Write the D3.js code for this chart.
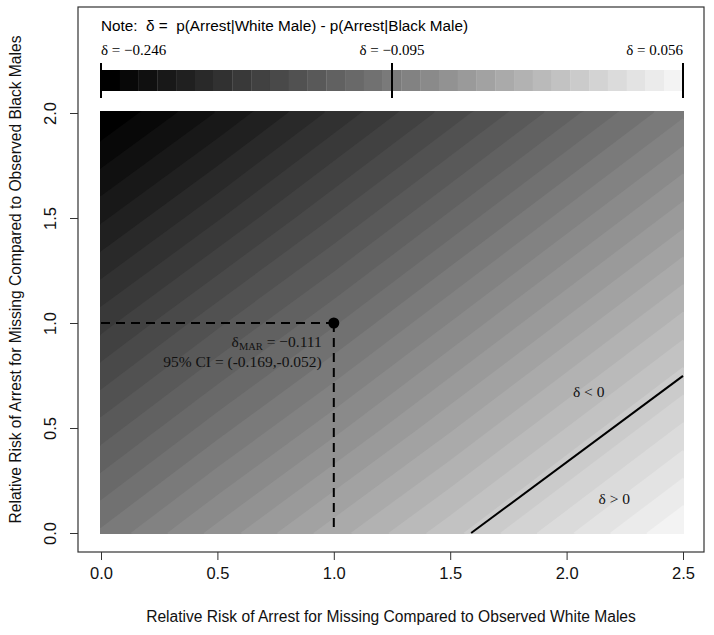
<!DOCTYPE html>
<html>
<head>
<meta charset="utf-8">
<script src="https://cdn.jsdelivr.net/npm/d3@7"></script>
<style>
  html, body { margin: 0; padding: 0; background: #fff; }
  svg { display: block; }
  .sans { font-family: "Liberation Sans", Arial, sans-serif; }
  .serif { font-family: "Liberation Serif", "Times New Roman", serif; }
</style>
</head>
<body>
<div id="chart"></div>
<script>
// axis ticks
const xTicks = [0, 0.5, 1, 1.5, 2, 2.5];
const yTicks = [0, 0.5, 1, 1.5, 2];

// delta at the tick grid (rows: y = 0 .. 2, cols: x = 0 .. 2.5)
const gridX = [0, 0.5, 1, 1.5, 2, 2.5];
const gridY = [0, 0.5, 1, 1.5, 2];
const deltaGrid = [
  [-0.098, -0.067, -0.036, -0.006, 0.025, 0.056],
  [-0.135, -0.104, -0.074, -0.043, -0.012, 0.019],
  [-0.172, -0.141, -0.111, -0.080, -0.049, -0.018],
  [-0.209, -0.179, -0.148, -0.117, -0.086, -0.055],
  [-0.246, -0.216, -0.185, -0.154, -0.123, -0.092]
];

// colour key
const legendValues = [-0.246, -0.095, 0.056];
const legendLabels = ["δ = −0.246", "δ = −0.095", "δ = 0.056"];
const nLevels = 31;

// MAR point, CI and the delta = 0 line
const marPoint = [1, 1];
const marDelta = "−0.111";
const marCI = "95% CI = (-0.169,-0.052)";
const zeroLine = [[1.59, 0], [2.5, 0.748]];
const regionLabels = [
  { text: "δ < 0", x: 2.095, y: 0.67 },
  { text: "δ > 0", x: 2.205, y: 0.16 }
];

window.addEventListener('DOMContentLoaded', function() {
  const width = 714, height = 635;
  const frame = { left: 78, top: 7, right: 704, bottom: 552 };

  const svg = d3.select('#chart').append('svg')
    .attr('width', width)
    .attr('height', height);

  const x = d3.scaleLinear().domain([0, 2.5]).range([101, 683]);
  const y = d3.scaleLinear().domain([0, 2]).range([533, 113]);

  // level breaks and grey palette
  const dMin = legendValues[0], dMax = legendValues[legendValues.length - 1];
  const breaks = d3.range(nLevels + 1).map(k => dMin + k * (dMax - dMin) / nLevels);
  const grey = d3.scaleLinear().domain([0, nLevels - 1]).range(['#000000', '#f3f3f3']);

  // ---- surface: filled bands from d3.contours on the grid
  const nx = gridX.length, ny = gridY.length;
  const values = [];
  for (let j = ny - 1; j >= 0; j--) {       // top row first
    for (let i = 0; i < nx; i++) values.push(deltaGrid[j][i]);
  }
  const stepX = gridX[1] - gridX[0], stepY = gridY[1] - gridY[0];
  const yTop = gridY[ny - 1];
  const proj = d3.geoTransform({
    point: function(px, py) {
      this.stream.point(x(gridX[0] + (px - 0.5) * stepX), y(yTop - (py - 0.5) * stepY));
    }
  });
  const path = d3.geoPath(proj);

  svg.append('clipPath').attr('id', 'rasterClip')
    .append('rect')
    .attr('x', x(0) - 1).attr('y', y(2) - 2)
    .attr('width', x(2.5) - x(0) + 2).attr('height', y(0) - y(2) + 3);

  const raster = svg.append('g').attr('clip-path', 'url(#rasterClip)');
  raster.append('rect')
    .attr('x', x(0) - 1).attr('y', y(2) - 2)
    .attr('width', x(2.5) - x(0) + 2).attr('height', y(0) - y(2) + 3)
    .attr('fill', grey(0));

  const contours = d3.contours().size([nx, ny]).thresholds(breaks.slice(1, nLevels))(values);
  raster.selectAll('path.band')
    .data(contours)
    .join('path')
    .attr('class', 'band')
    .attr('d', path)
    .attr('fill', (d, k) => grey(k + 1));

  // ---- colour key
  const kx = d3.scaleLinear().domain([dMin, dMax]).range([x(0), x(2.5)]);
  svg.append('g').selectAll('rect')
    .data(d3.range(nLevels))
    .join('rect')
    .attr('x', k => kx(breaks[k]))
    .attr('width', k => kx(breaks[k + 1]) - kx(breaks[k]) + 0.3)
    .attr('y', 70)
    .attr('height', 21)
    .attr('fill', k => grey(k));

  svg.append('g').selectAll('line')
    .data(legendValues)
    .join('line')
    .attr('x1', d => kx(d)).attr('x2', d => kx(d))
    .attr('y1', 63).attr('y2', 98)
    .attr('stroke', '#000').attr('stroke-width', 2);

  svg.append('g').selectAll('text')
    .data(legendValues)
    .join('text')
    .attr('class', 'serif')
    .attr('x', d => kx(d))
    .attr('y', 55)
    .attr('font-size', 15)
    .attr('text-anchor', (d, i) => i === 0 ? 'start' : i === legendValues.length - 1 ? 'end' : 'middle')
    .text((d, i) => legendLabels[i]);

  svg.append('text')
    .attr('class', 'sans')
    .attr('x', x(0)).attr('y', 31)
    .attr('font-size', 15.3)
    .attr('xml:space', 'preserve')
    .text('Note:  δ =  p(Arrest|White Male) - p(Arrest|Black Male)');

  // ---- MAR point with dashed guides
  const px = x(marPoint[0]), py = y(marPoint[1]);
  const dashed = svg.append('g')
    .attr('stroke', '#000').attr('stroke-width', 2)
    .attr('stroke-dasharray', '9,6').attr('fill', 'none');
  dashed.append('line').attr('x1', x(0)).attr('y1', py).attr('x2', px).attr('y2', py);
  dashed.append('line').attr('x1', px).attr('y1', py).attr('x2', px).attr('y2', y(0));
  svg.append('circle').attr('cx', px).attr('cy', py).attr('r', 5.5).attr('fill', '#000');

  const ann = svg.append('text')
    .attr('class', 'serif')
    .attr('x', px - 12).attr('y', py + 24)
    .attr('font-size', 15.5)
    .attr('text-anchor', 'end')
    .attr('fill', '#111');
  ann.append('tspan').text('δ');
  ann.append('tspan').attr('font-size', 10.5).attr('dy', 3).text('MAR');
  ann.append('tspan').attr('dy', -3).text(' = ' + marDelta);
  svg.append('text')
    .attr('class', 'serif')
    .attr('x', px - 12).attr('y', py + 44)
    .attr('font-size', 15.5)
    .attr('text-anchor', 'end')
    .attr('fill', '#111')
    .text(marCI);

  // ---- delta = 0 line and region labels
  svg.append('path')
    .datum(zeroLine)
    .attr('d', d3.line().x(d => x(d[0])).y(d => y(d[1])))
    .attr('stroke', '#000').attr('stroke-width', 2).attr('fill', 'none');

  svg.append('g').selectAll('text')
    .data(regionLabels)
    .join('text')
    .attr('class', 'serif')
    .attr('x', d => x(d.x)).attr('y', d => y(d.y) + 5)
    .attr('font-size', 15.5)
    .attr('text-anchor', 'middle')
    .attr('fill', '#111')
    .text(d => d.text);

  // ---- frame and axes
  svg.append('rect')
    .attr('x', frame.left).attr('y', frame.top)
    .attr('width', frame.right - frame.left).attr('height', frame.bottom - frame.top)
    .attr('fill', 'none').attr('stroke', '#333').attr('stroke-width', 1.2);

  const xAxis = svg.append('g')
    .attr('transform', `translate(0,${frame.bottom})`)
    .call(d3.axisBottom(x).tickValues(xTicks).tickFormat(d3.format('.1f')).tickSize(8).tickPadding(7));
  xAxis.select('.domain').remove();
  xAxis.selectAll('line').attr('stroke', '#333');
  xAxis.selectAll('text').attr('class', 'sans').attr('font-size', 16.5).attr('fill', '#111');

  const yAxis = svg.append('g')
    .attr('transform', `translate(${frame.left},0)`)
    .call(d3.axisLeft(y).tickValues(yTicks).tickFormat(d3.format('.1f')).tickSize(8));
  yAxis.select('.domain').remove();
  yAxis.selectAll('line').attr('stroke', '#333');
  yAxis.selectAll('text')
    .attr('class', 'sans').attr('font-size', 16.5).attr('fill', '#111')
    .attr('x', null).attr('dy', null)
    .attr('text-anchor', 'middle')
    .attr('transform', 'translate(-22,0) rotate(-90)');

  svg.append('text')
    .attr('class', 'sans')
    .attr('x', (frame.left + frame.right) / 2).attr('y', 622)
    .attr('font-size', 15.6).attr('text-anchor', 'middle').attr('fill', '#111')
    .text('Relative Risk of Arrest for Missing Compared to Observed White Males');

  svg.append('text')
    .attr('class', 'sans')
    .attr('transform', `translate(21,${(frame.top + frame.bottom) / 2}) rotate(-90)`)
    .attr('font-size', 15.6).attr('text-anchor', 'middle').attr('fill', '#111')
    .text('Relative Risk of Arrest for Missing Compared to Observed Black Males');
});
</script>
</body>
</html>
